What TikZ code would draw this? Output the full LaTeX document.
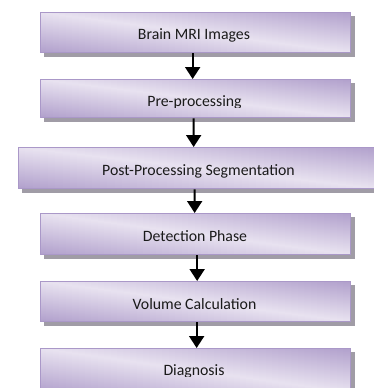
\documentclass[tikz,border=0pt]{standalone}
\usepackage{fontspec}
\setmainfont{Carlito}
\usetikzlibrary{arrows.meta,backgrounds}

\definecolor{lavdark}{HTML}{B1A0CC}
\definecolor{lavlight}{HTML}{E8E2F0}
\definecolor{lavedge}{HTML}{AA98C8}
\definecolor{shadowgray}{HTML}{A09CA6}
\definecolor{labelink}{HTML}{1A1A1A}

\tikzset{
  stagebox/.style={
    rectangle, anchor=north west, inner sep=0pt,
    draw=lavedge, line width=1.3bp
  },
  stagelabel/.style={
    inner sep=0pt, anchor=base, text=labelink,
    font=\fontsize{15.8bp}{19bp}\selectfont
  },
  flow/.style={
    draw=black, line width=2bp,
    -{Triangle[width=15bp,length=12bp]}
  },
  boxshadow/.style={fill=shadowgray},
  bandslice/.style={top color=lavdark, bottom color=lavdark, middle color=lavlight}
}

% label clipped just below its baseline: name, x, baseline, clip bottom, text
\newcommand{\stagetext}[5]{%
  \begin{scope}
    \clip (0,0) rectangle (374,#4);
    \node[stagelabel] (#1) at (#2,#3) {#5};
  \end{scope}}

% flat shadow offset down and to the right of a stage box
\newcommand{\stageshadow}[1]{%
  \fill[boxshadow] ([shift={(3.5,3.5)}]#1.north west)
                   rectangle ([shift={(3.5,3.5)}]#1.south east);}

% lavender fill with a light band from the top-left to the bottom-right corner,
% built from narrow vertical slices: x0, y0, width, height
\newcommand{\bandfill}[4]{%
  \begin{scope}
    \clip (#1,#2) rectangle ++(#3,#4);
    \foreach \i in {0,...,47}{
      \pgfmathsetmacro{\xa}{#1+(#3/48)*\i}
      \pgfmathsetmacro{\xb}{\xa+#3/48+0.6}
      \pgfmathsetmacro{\yc}{#2+(#4/48)*(\i+0.5)}
      \pgfmathsetmacro{\ya}{\yc-#4}
      \pgfmathsetmacro{\yb}{\yc+#4}
      \shade[bandslice] (\xa,\ya) rectangle (\xb,\yb);
    }
  \end{scope}}

\begin{document}
\begin{tikzpicture}[x=1bp,y=-1bp]
  \useasboundingbox (0,0) rectangle (374,388);

  % processing stages
  \node[stagebox, minimum width=310bp, minimum height=40bp] (b1) at (40,12) {};
  \node[stagebox, minimum width=310bp, minimum height=38bp] (b2) at (40,79) {};
  \node[stagebox, minimum width=358bp, minimum height=41bp] (b3) at (18,147) {};
  \node[stagebox, minimum width=310bp, minimum height=41bp] (b4) at (40,213) {};
  \node[stagebox, minimum width=310bp, minimum height=40bp] (b5) at (40,281) {};
  \node[stagebox, minimum width=310bp, minimum height=44bp] (b6) at (40,348) {};

  \begin{scope}[on background layer]
    \stageshadow{b1}
    \stageshadow{b2}
    \stageshadow{b3}
    \stageshadow{b4}
    \stageshadow{b5}
    \stageshadow{b6}
    \bandfill{40}{12}{310}{40}
    \bandfill{40}{79}{310}{38}
    \bandfill{18}{147}{358}{41}
    \bandfill{40}{213}{310}{41}
    \bandfill{40}{281}{310}{40}
    \bandfill{40}{348}{310}{44}
  \end{scope}

  % stage labels
  \stagetext{t1}{194}{39.5}{41}{Brain MRI Images}
  \stagetext{t2}{194.5}{106}{107.5}{Pre-processing}
  \stagetext{t3}{198.5}{175.7}{177}{Post-Processing Segmentation}
  \stagetext{t4}{195}{241}{250}{Detection Phase}
  \stagetext{t5}{194.5}{309}{318}{Volume Calculation}
  \stagetext{t6}{194}{375}{376.8}{Diagnosis}

  % flow between stages
  \draw[flow] ([xshift=-3bp]b1.south) -- ([xshift=-3bp]b2.north);
  \draw[flow] ([xshift=-2bp]b2.south) -- ([xshift=-4bp]b3.north);
  \draw[flow] ([xshift=-3bp]b3.south) -- ([xshift=-1bp]b4.north);
  \draw[flow] ([xshift=1.5bp]b4.south) -- ([xshift=1.5bp]b5.north);
  \draw[flow] ([xshift=1bp]b5.south) -- ([xshift=1bp]b6.north);
\end{tikzpicture}
\end{document}
